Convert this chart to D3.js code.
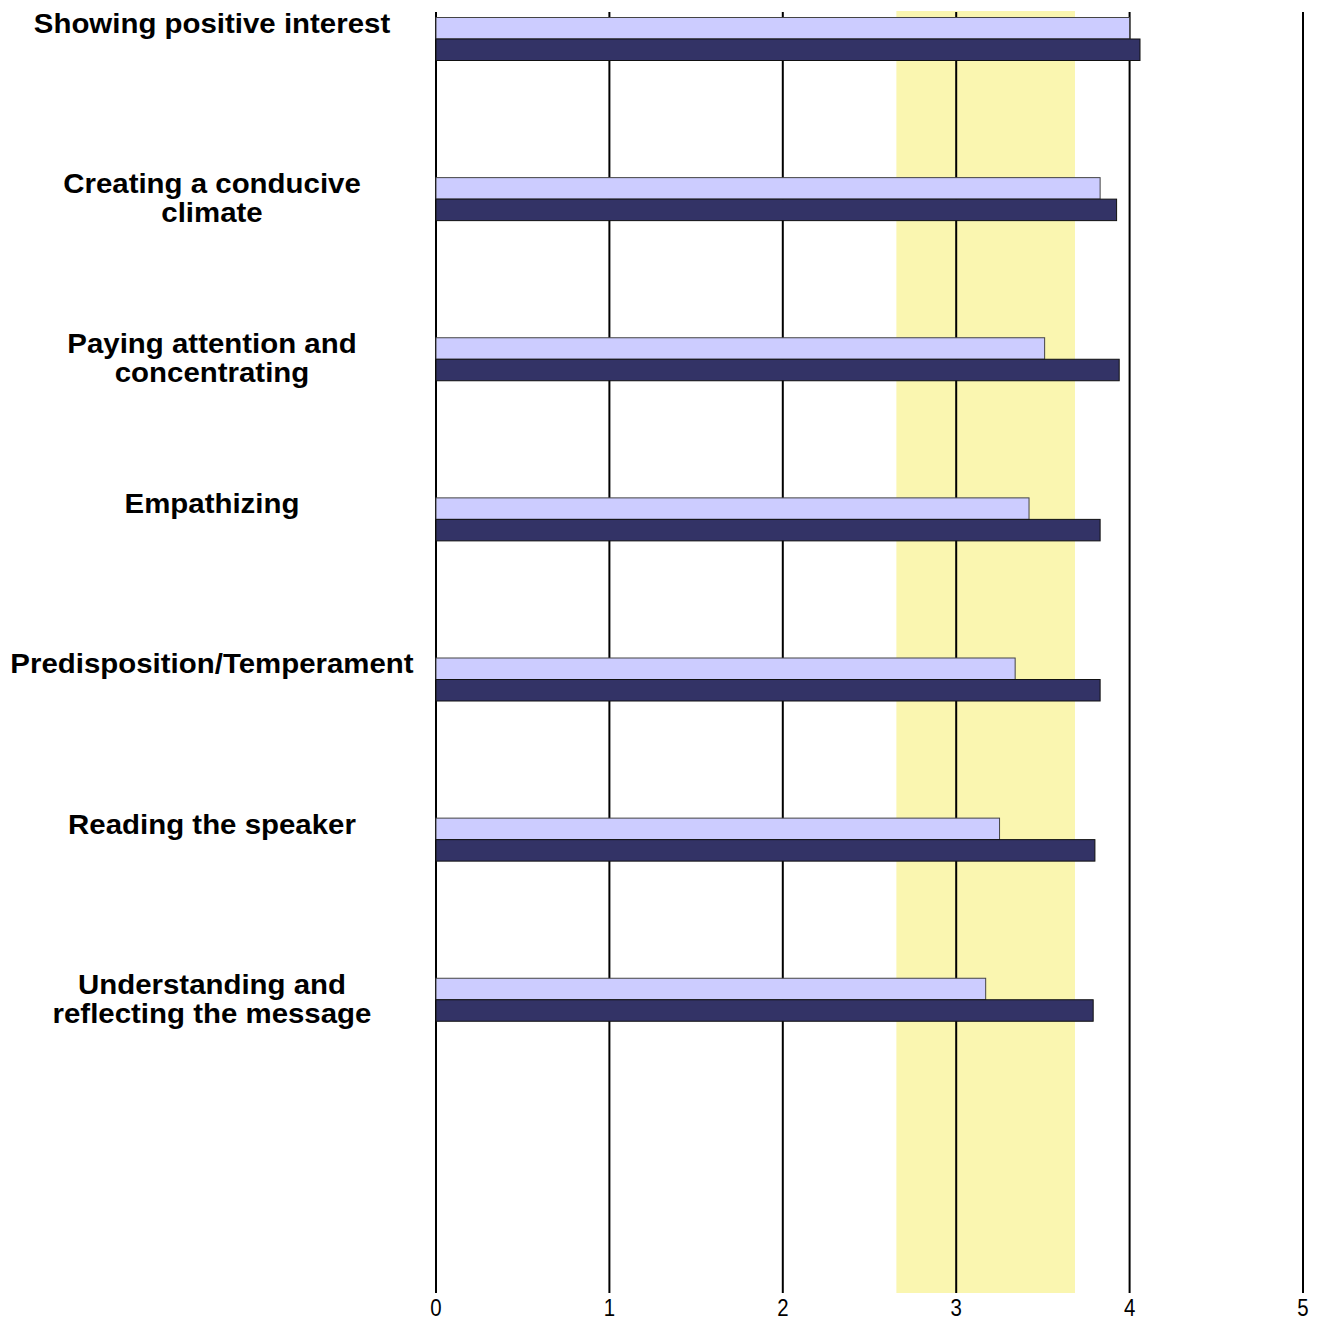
<!DOCTYPE html>
<html><head><meta charset="utf-8">
<script src="https://cdn.jsdelivr.net/npm/d3@7"></script>
<style>body{margin:0;background:#fff;overflow:hidden;}</style>
</head><body>
<script>
const categories = [
  ["Showing positive interest"],
  ["Creating a conducive", "climate"],
  ["Paying attention and", "concentrating"],
  ["Empathizing"],
  ["Predisposition/Temperament"],
  ["Reading the speaker"],
  ["Understanding and", "reflecting the message"]
];
const seriesLight = [4.00, 3.83, 3.51, 3.42, 3.34, 3.25, 3.17];
const seriesDark  = [4.06, 3.925, 3.94, 3.83, 3.83, 3.80, 3.79];
const bandRange = [2.655, 3.685];
const tickValues = [0, 1, 2, 3, 4, 5];

const W = 1323, H = 1322;
const svg = d3.select("body").append("svg").attr("width", W).attr("height", H);
const plotTop = 12, plotBottom = 1293;
const x = d3.scaleLinear().domain([0, 5]).range([436, 1303]);
const slots = d3.range(8);
const y = d3.scaleBand().domain(slots).range([plotTop, plotBottom]);
const barH = 21.5, barOff = 5.5;

// yellow band
svg.append("rect").attr("x", x(bandRange[0])).attr("y", plotTop - 1)
  .attr("width", x(bandRange[1]) - x(bandRange[0])).attr("height", plotBottom - plotTop + 1)
  .attr("fill", "#FAF6B0");

// gridlines
svg.selectAll("line.grid").data(tickValues).enter().append("line")
  .attr("x1", d => x(d)).attr("x2", d => x(d)).attr("y1", plotTop).attr("y2", plotBottom)
  .attr("stroke", "#000").attr("stroke-width", 2);

// bars
const idx = d3.range(categories.length);
svg.selectAll("rect.light").data(idx).enter().append("rect")
  .attr("x", x(0)).attr("y", i => y(i) + barOff)
  .attr("width", i => x(seriesLight[i]) - x(0)).attr("height", barH)
  .attr("fill", "#CCCCFF").attr("stroke", "#444").attr("stroke-width", 1);
svg.selectAll("rect.dark").data(idx).enter().append("rect")
  .attr("x", x(0)).attr("y", i => y(i) + barOff + barH)
  .attr("width", i => x(seriesDark[i]) - x(0)).attr("height", barH)
  .attr("fill", "#333366").attr("stroke", "#111").attr("stroke-width", 1);

// category labels (horizontally stretched like the reference)
const labelX = 212;
const lab = svg.selectAll("text.cat").data(idx).enter().append("text")
  .attr("transform", `translate(${labelX},0) scale(1.09,1)`)
  .attr("x", 0).attr("y", i => y(i) + 21)
  .attr("text-anchor", "middle")
  .attr("font-family", "Liberation Sans, Arial, sans-serif")
  .attr("font-weight", "bold").attr("font-size", 27).attr("fill", "#000");
lab.selectAll("tspan").data(i => categories[i]).enter().append("tspan")
  .attr("x", 0).attr("dy", (d, j) => j === 0 ? 0 : 29).text(d => d);

// tick labels (narrow, as in reference)
svg.selectAll("text.tick").data(tickValues).enter().append("text")
  .attr("transform", d => `translate(${x(d)},0) scale(0.85,1)`)
  .attr("x", 0).attr("y", 1316).attr("text-anchor", "middle")
  .attr("font-family", "Liberation Sans, Arial, sans-serif")
  .attr("font-size", 24).attr("fill", "#000").text(d => d);
</script>
</body></html>
